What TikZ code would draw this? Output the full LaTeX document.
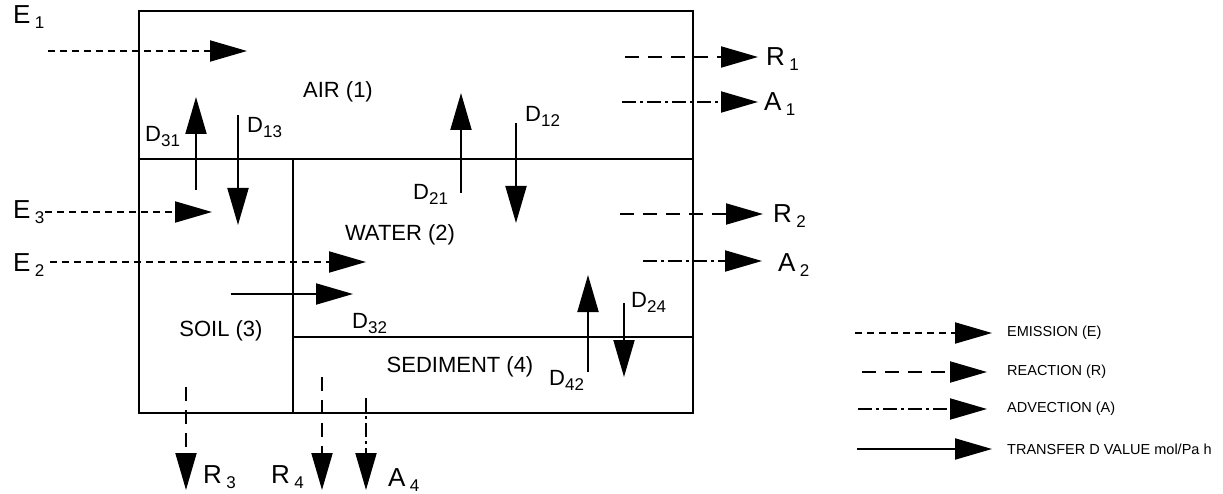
\documentclass[tikz,border=0pt]{standalone}
\usepackage{fontspec}
\setmainfont{Liberation Sans}
\usetikzlibrary{arrows.meta}
\newcommand{\FL}[2]{#1\,\raisebox{-5pt}{\fontsize{17}{17}\selectfont #2}}
\newcommand{\DL}[2]{#1\raisebox{-5pt}{\fontsize{17}{17}\selectfont #2}}
\begin{document}
\begin{tikzpicture}[x=1pt,y=-1pt,
  tip/.style={-{Triangle[length=37pt,width=21pt]}},
  emis/.style={tip,line width=2pt,dash pattern=on 7pt off 5pt},
  react/.style={tip,line width=2pt,dash pattern=on 14pt off 9pt},
  advect/.style={tip,line width=2pt,dash pattern=on 14pt off 4pt on 3pt off 4pt},
  transfer/.style={tip,line width=2pt},
  boxline/.style={line width=2.4pt},
  comp/.style={font=\fontsize{22}{22}\selectfont, inner sep=0pt},
  flab/.style={font=\fontsize{26}{26}\selectfont, inner sep=0pt, anchor=base west},
  dlab/.style={font=\fontsize{22}{22}\selectfont, inner sep=0pt, anchor=base west},
  leg/.style={font=\fontsize{14.5}{14.5}\selectfont, inner sep=0pt, anchor=west},
]
\useasboundingbox (0,0) rectangle (1223,494);

% compartments
\draw[boxline] (139,11) rectangle (693,413);
\draw[boxline] (139,159) -- (693,159);
\draw[boxline] (293,159) -- (293,413);
\draw[boxline] (293,337) -- (693,337);

\node[comp] (air) at (338,92) {AIR (1)};
\node[comp] (water) at (400,235) {WATER (2)};
\node[comp] (soil) at (221,331) {SOIL (3)};
\node[comp] (sed) at (460,367) {SEDIMENT (4)};

% emission arrows
\coordinate (e1s) at (48,51);  \coordinate (e1t) at (247,51);
\coordinate (e3s) at (45,212); \coordinate (e3t) at (212,212);
\coordinate (e2s) at (50,262); \coordinate (e2t) at (366,262);
\draw[emis] (e1s) -- (e1t);
\draw[emis] (e3s) -- (e3t);
\draw[emis] (e2s) -- (e2t);
\node[flab] (E1) at (13,24) {\FL{E}{1}};
\node[flab] (E3) at (13,219) {\FL{E}{3}};
\node[flab] (E2) at (13,272) {\FL{E}{2}};

% reaction and advection out of air and water
\coordinate (r1s) at (625,57);  \coordinate (r1t) at (758,57);
\coordinate (a1s) at (622,102); \coordinate (a1t) at (758,102);
\coordinate (r2s) at (620,214); \coordinate (r2t) at (763,214);
\coordinate (a2s) at (643,261); \coordinate (a2t) at (762,261);
\draw[react] (r1s) -- (r1t);
\draw[advect] (a1s) -- (a1t);
\draw[react] (r2s) -- (r2t);
\draw[advect] (a2s) -- (a2t);
\node[flab] (R1) at (766,66) {\FL{R}{1}};
\node[flab] (A1) at (764,111) {\FL{A}{1}};
\node[flab] (R2) at (773,223) {\FL{R}{2}};
\node[flab] (A2) at (778,272) {\FL{A}{2}};

% reaction and advection out of soil and sediment
\coordinate (r3s) at (186,387); \coordinate (r3t) at (186,490);
\coordinate (r4s) at (322,377); \coordinate (r4t) at (322,490);
\coordinate (a4s) at (366,398); \coordinate (a4t) at (366,490);
\draw[react] (r3s) -- (r3t);
\draw[react] (r4s) -- (r4t);
\draw[advect] (a4s) -- (a4t);
\node[flab] (R3) at (203,483) {\FL{R}{3}};
\node[flab] (R4) at (271,483) {\FL{R}{4}};
\node[flab] (A4) at (388,486) {\FL{A}{4}};

% transfer D values
\coordinate (d31s) at (196,190); \coordinate (d31t) at (196,97);
\coordinate (d13s) at (238,115); \coordinate (d13t) at (238,225);
\coordinate (d21s) at (461,193); \coordinate (d21t) at (461,93);
\coordinate (d12s) at (516,123); \coordinate (d12t) at (516,223);
\coordinate (d32s) at (231,294); \coordinate (d32t) at (353,294);
\coordinate (d42s) at (588,372); \coordinate (d42t) at (588,275);
\coordinate (d24s) at (624,303); \coordinate (d24t) at (624,377);
\draw[transfer] (d31s) -- (d31t);
\draw[transfer] (d13s) -- (d13t);
\draw[transfer] (d21s) -- (d21t);
\draw[transfer] (d12s) -- (d12t);
\draw[transfer] (d32s) -- (d32t);
\draw[transfer] (d42s) -- (d42t);
\draw[transfer] (d24s) -- (d24t);
\node[dlab] (D31) at (145,142) {\DL{D}{31}};
\node[dlab] (D13) at (247,133) {\DL{D}{13}};
\node[dlab] (D21) at (413,200) {\DL{D}{21}};
\node[dlab] (D12) at (525,122) {\DL{D}{12}};
\node[dlab] (D32) at (352,328) {\DL{D}{32}};
\node[dlab] (D42) at (549,385) {\DL{D}{42}};
\node[dlab] (D24) at (631,308) {\DL{D}{24}};

% legend
\node[leg] (lgE) at (1007,333) {EMISSION (E)};
\node[leg] (lgR) at (1007,372) {REACTION (R)};
\node[leg] (lgA) at (1007,409) {ADVECTION (A)};
\node[leg] (lgT) at (1007,449) {TRANSFER D VALUE mol/Pa h};
\coordinate (lgEs) at (855,333); \coordinate (lgEt) at (992,333);
\coordinate (lgRs) at (862,372); \coordinate (lgRt) at (987,372);
\coordinate (lgAs) at (858,409); \coordinate (lgAt) at (987,409);
\coordinate (lgTs) at (857,449); \coordinate (lgTt) at (992,449);
\draw[emis] (lgEs) -- (lgEt);
\draw[react] (lgRs) -- (lgRt);
\draw[advect] (lgAs) -- (lgAt);
\draw[transfer] (lgTs) -- (lgTt);
\end{tikzpicture}
\end{document}
